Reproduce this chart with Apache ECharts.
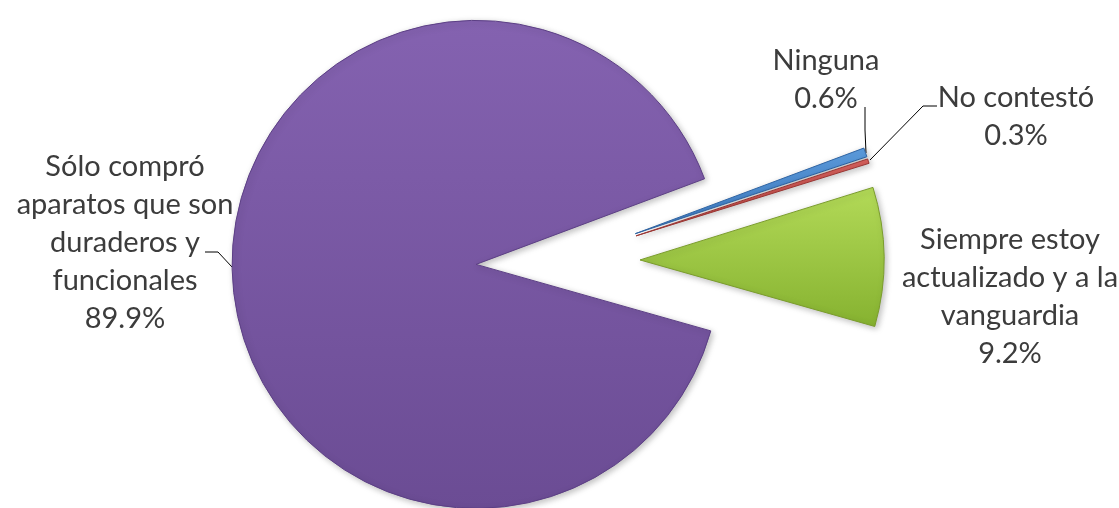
<!DOCTYPE html>
<html>
<head>
<meta charset="utf-8">
<script src="https://cdn.jsdelivr.net/npm/echarts@6/dist/echarts.min.js"></script>
<style>
  html, body { margin: 0; padding: 0; background: #fff; }
  #chart { width: 1119px; height: 508px; }
</style>
</head>
<body>
<div id="chart"></div>
<script>
// categories, in the order Excel drew them (clockwise)
const categories = [
  'Siempre estoy\nactualizado y a la\nvanguardia',
  'Sólo compró\naparatos que son\nduraderos y\nfuncionales',
  'Ninguna',
  'No contestó'
];
const percents = [9.2, 89.9, 0.6, 0.3];

const sliceColors = [
  ['#b3da58', '#86b230'],
  ['#8462b0', '#6b4c94'],
  ['#5d9ee0', '#3b78c0'],
  ['#d9625e', '#b2423f']
];
const borderColors = ['#7a9c2c', '#5c3f85', '#2f64a3', '#9a3532'];

// where each label sits (centre of the text block) and its leader line
const labelPos = [[1010, 297], [125, 243], [826, 80], [1016, 117]];
const leaderPoints = [
  null,
  [[232, 267], [218, 252], [205, 252]],
  [[866, 153], [865, 130], [865, 107]],
  [[870, 160], [923, 106], [937, 106]]
];

const pieCenter = [558, 261];
const pieRadius = 244;
const startAngle = 17.3;
const explode = 82;

const chart = echarts.init(document.getElementById('chart'));

// every slice is pulled out along its own mid angle (Excel "explosion"),
// so each one gets its own pie series that only shows that slice
const total = percents.reduce((a, b) => a + b, 0);
let acc = 0;
const series = percents.map((v, k) => {
  const mid = (startAngle - (acc + v / 2) / total * 360) * Math.PI / 180;
  acc += v;
  const c = [pieCenter[0] + explode * Math.cos(mid), pieCenter[1] - explode * Math.sin(mid)];
  return {
    type: 'pie',
    center: c,
    radius: pieRadius,
    startAngle: startAngle,
    clockwise: true,
    avoidLabelOverlap: false,
    silent: true,
    emphasis: { disabled: true },
    z: k === 1 ? 1 : 2,
    data: categories.map((name, i) => {
      const on = i === k;
      return {
        name: name,
        value: percents[i],
        itemStyle: on ? {
          color: {
            type: 'linear', x: 0, y: 0, x2: 0, y2: 1,
            colorStops: [
              { offset: 0, color: sliceColors[i][0] },
              { offset: 1, color: sliceColors[i][1] }
            ]
          },
          borderColor: borderColors[i],
          borderWidth: 1,
          shadowBlur: 6,
          shadowOffsetX: 2,
          shadowOffsetY: 2,
          shadowColor: 'rgba(0,0,0,0.25)'
        } : { color: 'rgba(0,0,0,0)', borderWidth: 0 },
        label: { show: on },
        labelLine: { show: on && i !== 0 }
      };
    }),
    label: {
      position: 'outside',
      formatter: p => p.name + '\n' + p.value.toFixed(1) + '%',
      fontFamily: 'Lato',
      fontSize: 29,
      lineHeight: 38,
      color: '#3c3c3c',
      align: 'center'
    },
    labelLine: {
      length: 15,
      length2: 12,
      lineStyle: { color: '#000', width: 1 }
    },
    labelLayout: function (p) {
      const pos = labelPos[p.dataIndex];
      const out = { x: pos[0], y: pos[1], align: 'center', verticalAlign: 'middle' };
      if (leaderPoints[p.dataIndex]) out.labelLinePoints = leaderPoints[p.dataIndex];
      return out;
    }
  };
});

chart.setOption({ animation: false, series: series });
</script>
</body>
</html>
